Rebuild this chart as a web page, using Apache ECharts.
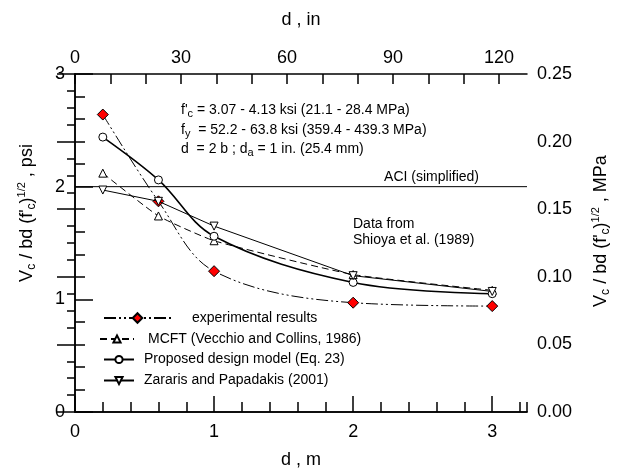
<!DOCTYPE html>
<html>
<head>
<meta charset="utf-8">
<script src="https://cdn.jsdelivr.net/npm/echarts@6/dist/echarts.min.js"></script>
<style>
html,body{margin:0;padding:0;background:#fff;}
#chart{width:619px;height:470px;}
</style>
</head>
<body>
<div id="chart"></div>
<script>
// ---- data ----
const depthM = [0.2, 0.6, 1.0, 2.0, 3.0];
const experimental = [2.64, 1.87, 1.25, 0.97, 0.94];
const mcft = [2.12, 1.74, 1.52, 1.22, 1.08];
const proposed = [2.44, 2.06, 1.56, 1.15, 1.05];
const zararis = [1.97, 1.87, 1.65, 1.21, 1.07];
const aciLevel = 2;
const seriesNames = ['experimental results', 'MCFT (Vecchio and Collins, 1986)', 'Proposed design model (Eq. 23)', 'Zararis and Papadakis (2001)'];
const xMaxM = 3.25;
const yMaxPsi = 3;
const yMaxMPa = 0.25;

const FONT = 'Liberation Sans, Arial, sans-serif';
const pair = (xs, ys) => xs.map((x, i) => [x, ys[i]]);

const chart = echarts.init(document.getElementById('chart'), null, {renderer: 'canvas'});

const G = {left: 75, top: 74, width: 452, height: 338};
const axisLine = {show: true, lineStyle: {color: '#000', width: 1.5}};
const tickLine = {color: '#000', width: 1.5};

const option = {
  backgroundColor: '#fff',
  animation: false,
  grid: {left: G.left, top: G.top, width: G.width, height: G.height, containLabel: false},
  xAxis: [
    { // bottom data axis (m), minor ticks every 0.2
      type: 'value', position: 'bottom', min: 0, max: xMaxM, interval: 0.2,
      axisLine: axisLine,
      axisTick: {show: true, inside: true, length: 10, lineStyle: tickLine},
      splitLine: {show: false},
      axisLabel: {show: false}
    },
    { // bottom major ticks with labels
      type: 'value', position: 'bottom', min: 0, max: xMaxM, interval: 1,
      axisLine: axisLine,
      axisTick: {show: true, inside: true, length: 16, lineStyle: tickLine},
      splitLine: {show: false},
      axisLabel: {fontFamily: FONT, fontSize: 18, color: '#000', margin: 11, showMaxLabel: false,
        formatter: v => (Math.abs(v - Math.round(v)) < 1e-6 ? String(Math.round(v)) : '')}
    },
    { // top (in)
      type: 'value', position: 'top', min: 0, max: xMaxM / 0.0254, interval: 10,
      axisLine: axisLine,
      axisTick: {show: true, inside: true, length: 10, lineStyle: tickLine},
      splitLine: {show: false},
      axisLabel: {fontFamily: FONT, fontSize: 18, color: '#000', margin: 7, showMaxLabel: false,
        formatter: v => (Math.abs(v % 30) < 1e-6 ? String(v) : '')}
    }
  ],
  yAxis: [
    {
      type: 'value', position: 'left', min: 0, max: yMaxPsi, interval: 1,
      axisLine: axisLine,
      axisTick: {show: true, inside: true, length: 18, lineStyle: tickLine},
      minorTick: {show: true, splitNumber: 5, length: 10, lineStyle: tickLine},
      splitLine: {show: false}, minorSplitLine: {show: false},
      axisLabel: {fontFamily: FONT, fontSize: 18, color: '#000', margin: 10}
    },
    {
      type: 'value', position: 'right', min: 0, max: yMaxMPa, interval: 0.05,
      axisLine: axisLine,
      axisTick: {show: true, inside: true, length: 18, lineStyle: tickLine},
      minorTick: {show: true, splitNumber: 4, length: 8, lineStyle: tickLine},
      splitLine: {show: false}, minorSplitLine: {show: false},
      axisLabel: {fontFamily: FONT, fontSize: 18, color: '#000', margin: 10, formatter: v => v.toFixed(2)}
    }
  ],
  legend: [
    {data: [seriesNames[0]], left: 103, top: 311, padding: 0, itemWidth: 67, itemHeight: 12,
      textStyle: {fontFamily: FONT, fontSize: 14, color: '#000', padding: [0, 0, 0, 16]}},
    {data: [seriesNames[1]], left: 99, top: 332, padding: 0, itemWidth: 34, itemHeight: 9,
      textStyle: {fontFamily: FONT, fontSize: 14, color: '#000', padding: [0, 0, 0, 9]}},
    {data: [seriesNames[2]], left: 103, top: 352.5, padding: 0, itemWidth: 30, itemHeight: 9,
      textStyle: {fontFamily: FONT, fontSize: 14, color: '#000', padding: [0, 0, 0, 5]}},
    {data: [seriesNames[3]], left: 103, top: 373.5, padding: 0, itemWidth: 30, itemHeight: 9,
      textStyle: {fontFamily: FONT, fontSize: 14, color: '#000', padding: [0, 0, 0, 5]}}
  ],
  series: [
    {
      name: 'ACI (simplified)', type: 'line', data: [[0, aciLevel], [xMaxM, aciLevel]],
      symbol: 'none', lineStyle: {color: '#000', width: 1}, silent: true, z: 1
    },
    {
      name: seriesNames[0], type: 'line', data: pair(depthM, experimental), smooth: 0.35,
      symbol: 'diamond', symbolSize: 11,
      itemStyle: {color: '#ff0000', borderColor: '#000', borderWidth: 1},
      lineStyle: {color: '#000', width: 1, type: [12, 3, 2, 3, 2, 3]}, z: 2
    },
    {
      name: seriesNames[1], type: 'line', data: pair(depthM, mcft), smooth: 0.15,
      symbol: 'triangle', symbolSize: 8,
      itemStyle: {color: '#fff', borderColor: '#000', borderWidth: 1},
      lineStyle: {color: '#000', width: 1, type: [7, 4]}, z: 3
    },
    {
      name: seriesNames[2], type: 'line', data: pair(depthM, proposed), smooth: 0.35,
      symbol: 'circle', symbolSize: 8,
      itemStyle: {color: '#fff', borderColor: '#000', borderWidth: 1},
      lineStyle: {color: '#000', width: 1.6}, z: 4
    },
    {
      name: seriesNames[3], type: 'line', data: pair(depthM, zararis),
      symbol: 'triangle', symbolRotate: 180, symbolSize: 8,
      itemStyle: {color: '#fff', borderColor: '#000', borderWidth: 1},
      lineStyle: {color: '#000', width: 1}, z: 5
    }
  ],
  graphic: [
    {type: 'text', x: 301, y: 20, style: {text: 'd , in', font: '18px ' + FONT, fill: '#000', textAlign: 'center', textVerticalAlign: 'middle'}},
    {type: 'text', x: 301, y: 460, style: {text: 'd , m', font: '18px ' + FONT, fill: '#000', textAlign: 'center', textVerticalAlign: 'middle'}},
    {type: 'text', x: 27, y: 213, rotation: Math.PI / 2,
      style: {text: "V{sub|c} / bd (f'{sub|c}){sup|1/2} , psi", fontSize: 18, fontFamily: FONT, fill: '#000', lineHeight: 22,
        textAlign: 'center', textVerticalAlign: 'middle',
        rich: {sub: {fontSize: 12, fontFamily: FONT, lineHeight: 14, verticalAlign: 'bottom'},
               sup: {fontSize: 11, fontFamily: FONT, lineHeight: 12, verticalAlign: 'top'}}}},
    {type: 'text', x: 601, y: 231, rotation: Math.PI / 2,
      style: {text: "V{sub|c} / bd (f'{sub|c}){sup|1/2} , MPa", fontSize: 18, fontFamily: FONT, fill: '#000', lineHeight: 22,
        textAlign: 'center', textVerticalAlign: 'middle',
        rich: {sub: {fontSize: 12, fontFamily: FONT, lineHeight: 14, verticalAlign: 'bottom'},
               sup: {fontSize: 11, fontFamily: FONT, lineHeight: 12, verticalAlign: 'top'}}}},
    {type: 'text', x: 181, y: 110,
      style: {text: "f'{s|c} = 3.07 - 4.13 ksi (21.1 - 28.4 MPa)", fontSize: 14, fontFamily: FONT, fill: '#000', lineHeight: 18,
        textAlign: 'left', textVerticalAlign: 'middle',
        rich: {s: {fontSize: 11, fontFamily: FONT, lineHeight: 12, verticalAlign: 'bottom'}}}},
    {type: 'text', x: 181, y: 130,
      style: {text: "f{s|y}  = 52.2 - 63.8 ksi (359.4 - 439.3 MPa)", fontSize: 14, fontFamily: FONT, fill: '#000', lineHeight: 18,
        textAlign: 'left', textVerticalAlign: 'middle',
        rich: {s: {fontSize: 11, fontFamily: FONT, lineHeight: 12, verticalAlign: 'bottom'}}}},
    {type: 'text', x: 181, y: 149.5,
      style: {text: "d  = 2 b ; d{s|a} = 1 in. (25.4 mm)", fontSize: 14, fontFamily: FONT, fill: '#000', lineHeight: 18,
        textAlign: 'left', textVerticalAlign: 'middle',
        rich: {s: {fontSize: 11, fontFamily: FONT, lineHeight: 12, verticalAlign: 'bottom'}}}},
    {type: 'text', x: 479, y: 177.5, style: {text: 'ACI (simplified)', font: '14px ' + FONT, fill: '#000', textAlign: 'right', textVerticalAlign: 'middle'}},
    {type: 'text', x: 353, y: 224, style: {text: 'Data from', font: '14px ' + FONT, fill: '#000', textAlign: 'left', textVerticalAlign: 'middle'}},
    {type: 'text', x: 353, y: 240.5, style: {text: 'Shioya et al. (1989)', font: '14px ' + FONT, fill: '#000', textAlign: 'left', textVerticalAlign: 'middle'}}
  ]
};
chart.setOption(option);
</script>
</body>
</html>
